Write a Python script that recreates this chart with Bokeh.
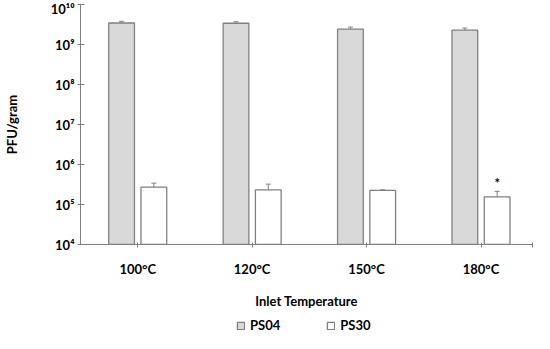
from bokeh.plotting import figure
from bokeh.layouts import column
from bokeh.models import (ColumnDataSource, Range1d, FixedTicker, CustomJSTickFormatter,
                          Whisker, TeeHead, Legend, LegendItem)
from bokeh.core.properties import value
from bokeh.embed import file_html
from bokeh.resources import INLINE

# ---- data ----
categories = ["100°C", "120°C", "150°C", "180°C"]
ps04 = [3.45e9, 3.4e9, 2.42e9, 2.28e9]
ps04_err = [0.35e9, 0.3e9, 0.3e9, 0.3e9]
ps30 = [2.72e5, 2.33e5, 2.25e5, 1.55e5]
ps30_err = [0.7e5, 0.9e5, 0.08e5, 0.58e5]
significance = ["", "", "", "*"]
y_ticks = [1e4, 1e5, 1e6, 1e7, 1e8, 1e9, 1e10]

FONT = "Lato"
GRAY = "#808080"
OFFSET = 0.141
BAR_W = 0.225
X_END = 3.45

idx = list(range(len(categories)))
src04 = ColumnDataSource(dict(
    x=[i - OFFSET for i in idx], top=ps04,
    upper=[v + e for v, e in zip(ps04, ps04_err)],
    lower=[v - e for v, e in zip(ps04, ps04_err)]))
src30 = ColumnDataSource(dict(
    x=[i + OFFSET for i in idx], top=ps30,
    upper=[v + e for v, e in zip(ps30, ps30_err)],
    lower=[v - e for v, e in zip(ps30, ps30_err)],
    star_y=[(v + e) * 1.6 for v, e in zip(ps30, ps30_err)],
    star=significance))

p = figure(width=534, height=312, y_axis_type="log",
           x_range=Range1d(-0.5, X_END), y_range=Range1d(y_ticks[0], y_ticks[-1]),
           output_backend="svg", toolbar_location=None,
           min_border_left=75, min_border_right=2, min_border_top=4, min_border_bottom=68)
p.outline_line_color = None
p.xgrid.visible = False
p.ygrid.visible = False

bar04 = dict(fill_color="#d9d9d9", line_color=GRAY, line_width=1.3)
bar30 = dict(fill_color="white", line_color=GRAY, line_width=1.3)
p.vbar(x="x", top="top", bottom=y_ticks[0], width=BAR_W, source=src04, **bar04)
p.vbar(x="x", top="top", bottom=y_ticks[0], width=BAR_W, source=src30, **bar30)

for s in (src04, src30):
    w = Whisker(source=s, base="x", upper="upper", lower="lower", dimension="height",
                line_color=GRAY, line_width=1,
                upper_head=TeeHead(size=5, line_color=GRAY, line_width=1),
                lower_head=TeeHead(size=5, line_color=GRAY, line_width=1))
    p.add_layout(w)

p.text(x="x", y="star_y", text="star", source=src30, text_align="center",
       text_baseline="middle", text_font=value(FONT), text_font_style="bold",
       text_font_size="13px", text_color="black")

# y axis
p.yaxis.ticker = FixedTicker(ticks=y_ticks)
p.yaxis.formatter = CustomJSTickFormatter(code="""
const sup = {'0':'\u2070','1':'\u00b9','2':'\u00b2','3':'\u00b3','4':'\u2074','5':'\u2075','6':'\u2076','7':'\u2077','8':'\u2078','9':'\u2079'};
const e = String(Math.round(Math.log10(tick)));
return '10' + e.split('').map(c => sup[c]).join('');
""")
p.yaxis.axis_label = "PFU/gram"
p.yaxis.minor_tick_line_color = None
p.yaxis.major_tick_in = 4
p.yaxis.major_tick_out = 3
p.yaxis.major_label_standoff = 3
p.yaxis.axis_label_standoff = 28

# x axis
p.xaxis.ticker = FixedTicker(ticks=idx + [X_END])
p.xaxis.formatter = CustomJSTickFormatter(args=dict(labels=categories), code="""
const i = Math.round(tick);
return (Math.abs(tick - i) < 1e-6 && i < labels.length) ? labels[i] : '';
""")
p.xaxis.axis_label = "Inlet Temperature"
p.xaxis.major_tick_in = 2
p.xaxis.major_tick_out = 3
p.xaxis.major_label_standoff = 13
p.xaxis.axis_label_standoff = 13

for ax in (p.xaxis, p.yaxis):
    ax.axis_line_color = GRAY
    ax.major_tick_line_color = GRAY
    ax.major_label_text_font = FONT
    ax.major_label_text_font_style = "bold"
    ax.major_label_text_font_size = "13px"
    ax.major_label_text_color = "black"
    ax.axis_label_text_font = FONT
    ax.axis_label_text_font_style = "bold"
    ax.axis_label_text_font_size = "13px"
    ax.axis_label_text_color = "black"

# legend strip below the chart (same series styles; its own bars are hidden)
pl = figure(width=534, height=21, x_range=Range1d(100, 101), y_range=Range1d(0, 1),
            output_backend="svg", toolbar_location=None,
            min_border_left=0, min_border_right=0, min_border_top=0, min_border_bottom=0,
            x_axis_location=None, y_axis_location=None,
            background_fill_color="white", border_fill_color="white")
pl.outline_line_color = None
pl.xgrid.visible = False
pl.ygrid.visible = False
l1 = pl.vbar(x="x", top="top", bottom=y_ticks[0], width=BAR_W, source=src04, **bar04)
l2 = pl.vbar(x="x", top="top", bottom=y_ticks[0], width=BAR_W, source=src30, **bar30)
l1.visible = False
l2.visible = False
legend = Legend(items=[LegendItem(label="PS04", renderers=[l1]),
                       LegendItem(label="PS30", renderers=[l2])],
                orientation="horizontal", location=(156, 0),
                border_line_color=None, background_fill_alpha=0,
                inactive_fill_alpha=0,
                glyph_width=9, glyph_height=9, label_standoff=5, spacing=46,
                label_height=13,
                label_text_font=FONT, label_text_font_style="bold",
                label_text_font_size="13px", label_text_color="black",
                margin=0, padding=0)
pl.add_layout(legend)

layout = column(p, pl, spacing=0)
open("out.html", "w").write(file_html(layout, INLINE))
